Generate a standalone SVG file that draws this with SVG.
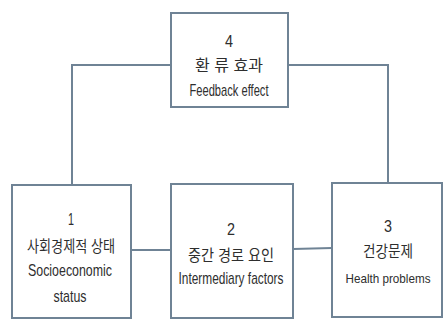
<svg xmlns="http://www.w3.org/2000/svg" width="443" height="320" viewBox="0 0 443 320">
<style>
.box{fill:#ffffff;stroke:#6f8395;stroke-width:2}
.con{fill:none;stroke:#6f8395;stroke-width:2}
text{font-family:"Liberation Sans","Noto Sans CJK KR",sans-serif;fill:#2e2e2e;text-anchor:middle}
.num{font-size:16px}
.ko{font-size:16px}
.en{font-size:17px}
</style>
<rect width="443" height="320" fill="#ffffff"/>
<g id="connectors">
<polyline class="con" points="171,65 72,65 72,185"/>
<polyline class="con" points="288,65 388,65 388,183"/>
<line class="con" x1="131" y1="250" x2="171" y2="250"/>
<line class="con" x1="293" y1="249" x2="332" y2="248"/>
</g>
<g id="node4">
<rect class="box" x="171" y="13" width="117" height="94"/>
<text class="num" x="229" y="47" textLength="8" lengthAdjust="spacingAndGlyphs">4</text>
<text class="ko" x="229" y="71" textLength="68" lengthAdjust="spacingAndGlyphs">환 류 효과</text>
<text class="en" x="229" y="96" textLength="79" lengthAdjust="spacingAndGlyphs">Feedback effect</text>
</g>
<g id="node1">
<rect class="box" x="12" y="185" width="119" height="133"/>
<text class="num" x="71" y="225" textLength="6" lengthAdjust="spacingAndGlyphs">1</text>
<text class="ko" x="71" y="252" textLength="88" lengthAdjust="spacingAndGlyphs">사회경제적 상태</text>
<text class="en" x="70" y="276" textLength="84" lengthAdjust="spacingAndGlyphs">Socioeconomic</text>
<text class="en" x="70" y="302" textLength="33" lengthAdjust="spacingAndGlyphs">status</text>
</g>
<g id="node2">
<rect class="box" x="171" y="184" width="122" height="134"/>
<text class="num" x="231" y="235" textLength="8" lengthAdjust="spacingAndGlyphs">2</text>
<text class="ko" x="231" y="261" textLength="86" lengthAdjust="spacingAndGlyphs">중간 경로 요인</text>
<text class="en" x="231" y="284" textLength="105" lengthAdjust="spacingAndGlyphs">Intermediary factors</text>
</g>
<g id="node3">
<rect class="box" x="332" y="183" width="110" height="134"/>
<text class="num" x="388" y="232" textLength="8" lengthAdjust="spacingAndGlyphs">3</text>
<text class="ko" x="388" y="257" textLength="50" lengthAdjust="spacingAndGlyphs">건강문제</text>
<text x="388" y="283" font-size="13" textLength="85" lengthAdjust="spacingAndGlyphs">Health problems</text>
</g>
</svg>
